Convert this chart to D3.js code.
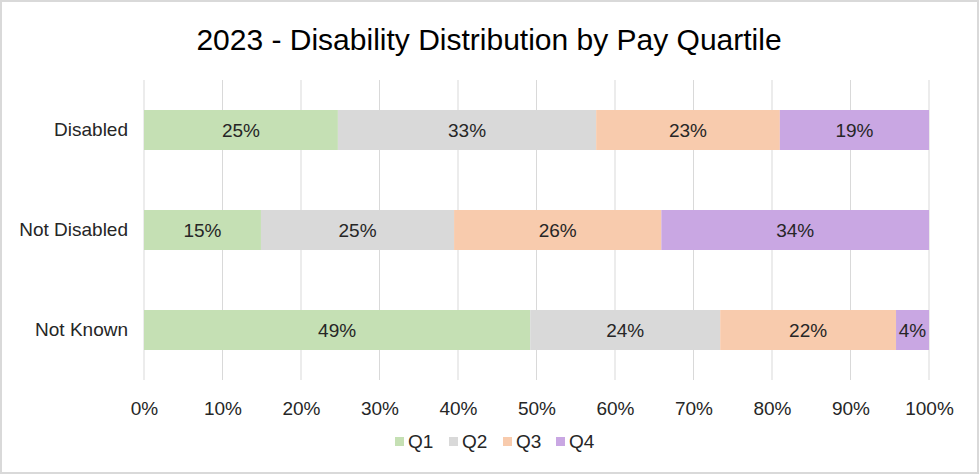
<!DOCTYPE html>
<html><head><meta charset="utf-8">
<script src="https://cdn.jsdelivr.net/npm/d3@7"></script>
<style>body{margin:0;background:#fff;font-family:"Liberation Sans",Arial,sans-serif;}</style>
</head><body>
<svg id="c" width="979" height="474"></svg>
<script>
const title = "2023 - Disability Distribution by Pay Quartile";
const categories = ["Disabled", "Not Disabled", "Not Known"];
const seriesNames = ["Q1", "Q2", "Q3", "Q4"];
const q1 = [24.7, 14.9, 49.2];
const q2 = [32.9, 24.6, 24.2];
const q3 = [23.4, 26.4, 22.4];
const q4 = [19.0, 34.1, 4.2];
const labels = [["25%","33%","23%","19%"],["15%","25%","26%","34%"],["49%","24%","22%","4%"]];
const tickValues = [0,10,20,30,40,50,60,70,80,90,100];
const colors = ["#c5e0b4", "#d9d9d9", "#f8cbad", "#c9a7e3"];

const svg = d3.select("#c");
svg.append("rect").attr("x",1).attr("y",1).attr("width",977).attr("height",472)
  .attr("fill","#fff").attr("stroke","#d9d9d9").attr("stroke-width",2);

const m = {l:144, r:50, t:80, b:94};
const W = 979, H = 474;
const FS = 19;
const x = d3.scaleLinear().domain([0,100]).range([m.l, W - m.r]);
const y = d3.scaleBand().domain(categories).range([m.t, H - m.b]).paddingInner(0.6).paddingOuter(0.3);

svg.append("text").attr("x", 489).attr("y", 50).attr("text-anchor","middle")
  .attr("font-size", 30).attr("fill","#000").text(title);

// gridlines
svg.append("g").selectAll("line").data(tickValues).join("line")
  .attr("x1", d=>x(d)).attr("x2", d=>x(d)).attr("y1", m.t).attr("y2", H - m.b)
  .attr("stroke","#d9d9d9").attr("stroke-width",1);

const series = [q1,q2,q3,q4];
const rows = categories.map((c,i)=>{
  let acc = 0; const o = {cat:c};
  series.forEach((s,j)=>{ o[seriesNames[j]+"0"]=acc; acc+=s[i]; o[seriesNames[j]+"1"]=acc; });
  return o;
});

seriesNames.forEach((s,j)=>{
  const g = svg.append("g");
  g.selectAll("rect").data(rows).join("rect")
    .attr("x", d=>x(d[s+"0"])).attr("width", d=>x(d[s+"1"])-x(d[s+"0"]))
    .attr("y", d=>y(d.cat)).attr("height", y.bandwidth()).attr("fill", colors[j]);
  g.selectAll("text").data(rows).join("text")
    .attr("x", d=>(x(d[s+"0"])+x(d[s+"1"]))/2).attr("y", d=>y(d.cat)+y.bandwidth()/2)
    .attr("dy","0.35em").attr("text-anchor","middle").attr("font-size",FS).attr("fill","#262626")
    .text((d,i)=>labels[i][j]);
});

// y axis labels
const ya = svg.append("g").attr("transform",`translate(${m.l},0)`)
  .call(d3.axisLeft(y).tickSize(0).tickPadding(16));
ya.select(".domain").remove();
ya.selectAll("text").attr("font-size",FS).attr("fill","#262626").attr("font-family","Liberation Sans, Arial, sans-serif");

// x axis
const xa = svg.append("g").attr("transform",`translate(0,${H - m.b})`)
  .call(d3.axisBottom(x).tickValues(tickValues).tickFormat(d=>d+"%").tickSize(0).tickPadding(22));
xa.select(".domain").remove();
xa.selectAll("text").attr("font-size",FS).attr("fill","#262626").attr("font-family","Liberation Sans, Arial, sans-serif");

// legend
const legX = [395, 449, 503, 556];
const lg = svg.append("g");
seriesNames.forEach((s,j)=>{
  lg.append("rect").attr("x", legX[j]).attr("y", 437).attr("width",9).attr("height",9).attr("fill",colors[j]);
  lg.append("text").attr("x", legX[j]+13).attr("y", 441).attr("dy","0.35em").attr("font-size",FS).attr("fill","#262626").text(s);
});
</script>
</body></html>
